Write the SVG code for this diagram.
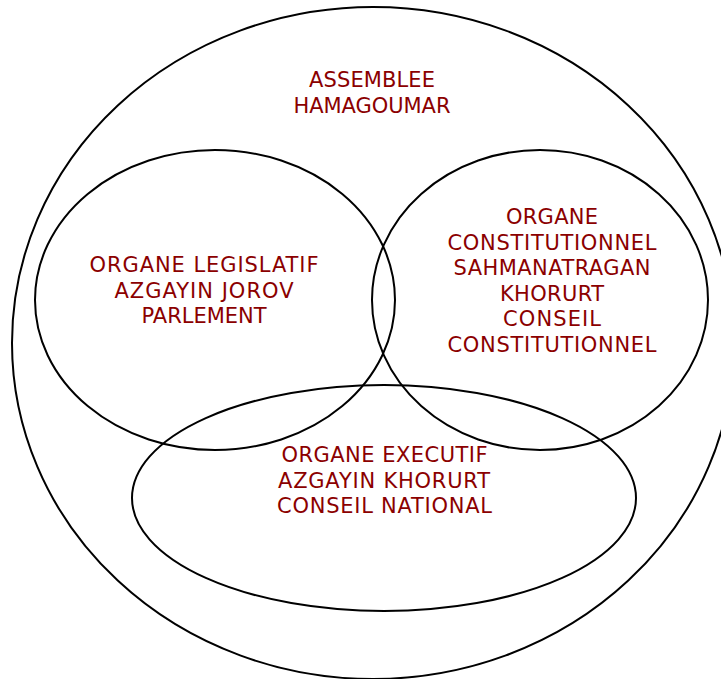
<svg xmlns="http://www.w3.org/2000/svg" width="721" height="679" viewBox="0 0 721 679">
<style>
.set{fill:none;stroke:#000;stroke-width:2}
.lbl{font-family:"DejaVu Sans","Verdana",sans-serif;font-size:21px;fill:#8b0000;text-anchor:middle}
</style>
<rect width="721" height="679" fill="#fff"/>
<g id="assemblee">
<ellipse class="set" cx="373" cy="343" rx="361" ry="336"/>
<text class="lbl" x="372" y="87" textLength="126" lengthAdjust="spacing">ASSEMBLEE</text>
<text class="lbl" x="372" y="113" textLength="157" lengthAdjust="spacing">HAMAGOUMAR</text>
</g>
<g id="legislatif">
<ellipse class="set" cx="215" cy="300" rx="180" ry="150"/>
<text class="lbl" x="204" y="272" textLength="229" lengthAdjust="spacing">ORGANE LEGISLATIF</text>
<text class="lbl" x="204" y="297.5" textLength="179" lengthAdjust="spacing">AZGAYIN JOROV</text>
<text class="lbl" x="204" y="323" textLength="125" lengthAdjust="spacing">PARLEMENT</text>
</g>
<g id="constitutionnel">
<ellipse class="set" cx="540" cy="300" rx="168" ry="150"/>
<text class="lbl" x="552" y="224" textLength="92" lengthAdjust="spacing">ORGANE</text>
<text class="lbl" x="552" y="249.6" textLength="209" lengthAdjust="spacing">CONSTITUTIONNEL</text>
<text class="lbl" x="552" y="275.2" textLength="197" lengthAdjust="spacing">SAHMANATRAGAN</text>
<text class="lbl" x="552" y="300.8" textLength="104" lengthAdjust="spacing">KHORURT</text>
<text class="lbl" x="552" y="326.4" textLength="98" lengthAdjust="spacing">CONSEIL</text>
<text class="lbl" x="552" y="352" textLength="209" lengthAdjust="spacing">CONSTITUTIONNEL</text>
</g>
<g id="executif">
<ellipse class="set" cx="384" cy="498" rx="252" ry="113"/>
<text class="lbl" x="384.5" y="462" textLength="206" lengthAdjust="spacing">ORGANE EXECUTIF</text>
<text class="lbl" x="384" y="488" textLength="212" lengthAdjust="spacing">AZGAYIN KHORURT</text>
<text class="lbl" x="384.5" y="513" textLength="215" lengthAdjust="spacing">CONSEIL NATIONAL</text>
</g>
<g id="connectors"/>
</svg>
